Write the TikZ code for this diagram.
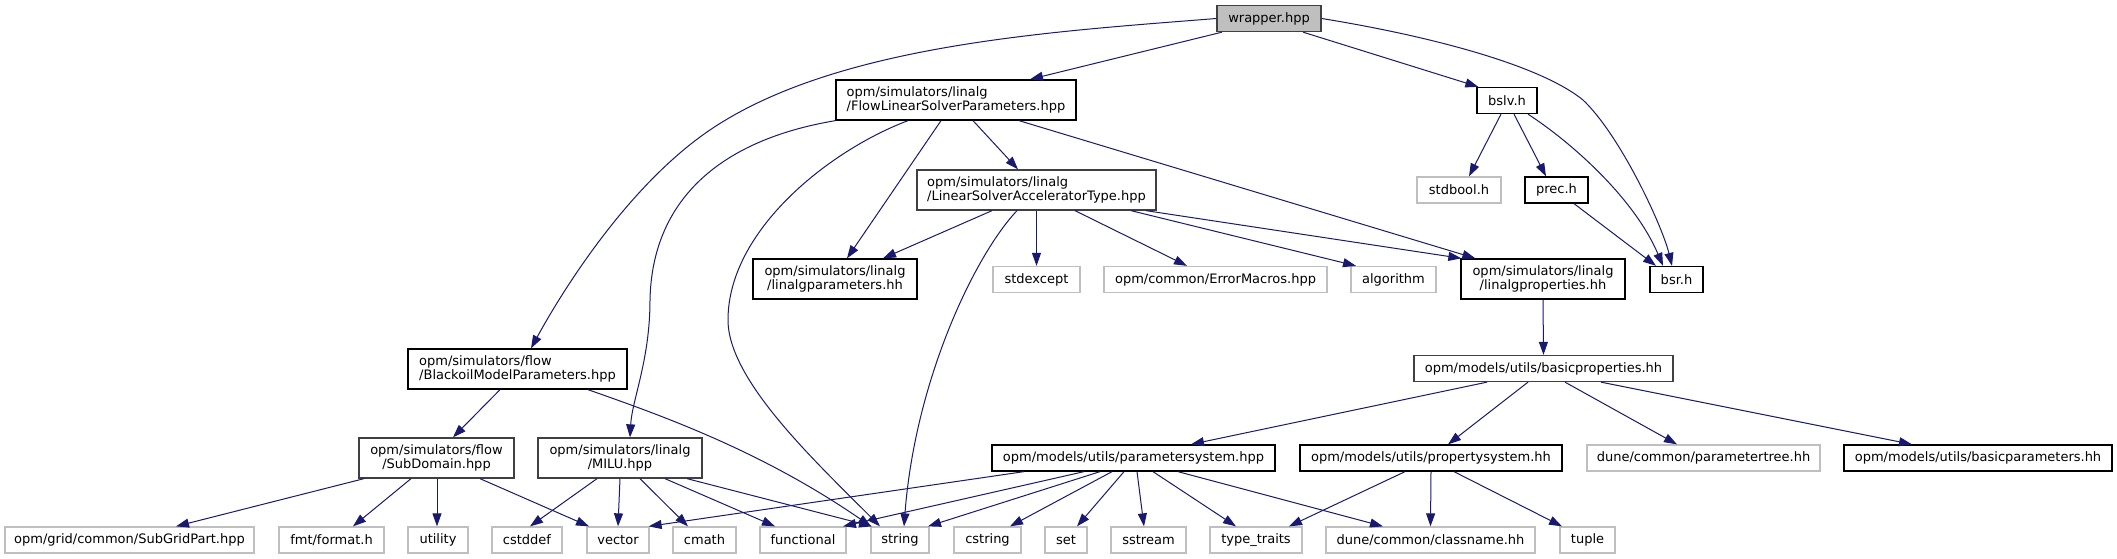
\documentclass[tikz,border=0pt]{standalone}
\usepackage{fontspec}
\setmainfont{DejaVu Sans}
\usetikzlibrary{arrows.meta}
\definecolor{edgec}{HTML}{191970}
\definecolor{dgray}{HTML}{404040}
\definecolor{lgray}{HTML}{BFBFBF}
\tikzset{
  nd/.style={draw=black, line width=1.3pt, rectangle, inner sep=0pt, minimum height=26pt,
    font=\fontsize{13}{14.5}\selectfont, align=center, fill=white},
  two/.style={minimum height=40pt},
  sys/.style={nd, draw=lgray},
  gr/.style={draw=dgray},
  e/.style={draw=edgec, line width=1pt, -{Triangle[length=13pt,width=9pt]}}
}
\begin{document}
\begin{tikzpicture}[x=1pt,y=-1pt]
\useasboundingbox (0,0) rectangle (2117,559);
\fill[white] (0,0) rectangle (2117,559);
% nodes
\node[nd, fill=lgray, draw=dgray, minimum width=104pt] (wrapper) at (1269,18.5) {wrapper.hpp};
\node[nd, two, align=left, minimum width=240pt] (flsp) at (956,100) {opm/simulators/linalg\\/FlowLinearSolverParameters.hpp};
\node[nd, two, gr, align=left, minimum width=239pt] (lsat) at (1036.5,190) {opm/simulators/linalg\\/LinearSolverAcceleratorType.hpp};
\node[nd, two, minimum width=164pt] (lpar) at (835,279) {opm/simulators/linalg\\/linalgparameters.hh};
\node[sys, minimum width=87pt] (stdexcept) at (1036.5,279.5) {stdexcept};
\node[sys, minimum width=223pt] (errmac) at (1215.5,279.5) {opm/common/ErrorMacros.hpp};
\node[sys, minimum width=85pt] (algorithm) at (1393.5,279.5) {algorithm};
\node[nd, two, minimum width=164pt] (lprop) at (1543,279) {opm/simulators/linalg\\/linalgproperties.hh};
\node[nd, minimum width=53pt] (bsr) at (1676.5,279.5) {bsr.h};
\node[nd, minimum width=60pt] (bslv) at (1507,100.5) {bslv.h};
\node[sys, minimum width=84pt] (stdbool) at (1459,190) {stdbool.h};
\node[nd, minimum width=63pt] (prec) at (1556.5,190) {prec.h};
\node[nd, gr, minimum width=259pt] (bprop) at (1543.5,368.5) {opm/models/utils/basicproperties.hh};
\node[nd, minimum width=283pt] (psys) at (1133.5,458) {opm/models/utils/parametersystem.hpp};
\node[nd, minimum width=262pt] (propsys) at (1431,458) {opm/models/utils/propertysystem.hh};
\node[sys, minimum width=233pt] (ptree) at (1703.5,458) {dune/common/parametertree.hh};
\node[nd, minimum width=268pt] (bparam) at (1978,458) {opm/models/utils/basicparameters.hh};
\node[nd, two, align=left, minimum width=219pt] (bmp) at (517.5,369) {opm/simulators/flow\\/BlackoilModelParameters.hpp};
\node[nd, two, gr, minimum width=155pt] (subdom) at (436.5,458) {opm/simulators/flow\\/SubDomain.hpp};
\node[nd, two, gr, minimum width=164pt] (milu) at (620,458) {opm/simulators/linalg\\/MILU.hpp};
\node[sys, minimum width=249pt] (subgrid) at (129.5,540) {opm/grid/common/SubGridPart.hpp};
\node[sys, minimum width=105pt] (fmt) at (331.5,540) {fmt/format.h};
\node[sys, minimum width=60pt] (utility) at (438,540) {utility};
\node[sys, minimum width=70pt] (cstddef) at (527,540) {cstddef};
\node[sys, minimum width=62pt] (vector) at (618,540) {vector};
\node[sys, minimum width=63pt] (cmath) at (704.5,540) {cmath};
\node[sys, minimum width=86pt] (functional) at (803,540) {functional};
\node[sys, minimum width=58pt] (string) at (900,540) {string};
\node[sys, minimum width=67pt] (cstring) at (987.5,540) {cstring};
\node[sys, minimum width=42pt] (set) at (1066,540) {set};
\node[sys, minimum width=75pt] (sstream) at (1148.5,540) {sstream};
\node[sys, minimum width=92pt] (typetraits) at (1256,540) {type\_traits};
\node[sys, minimum width=209pt] (classname) at (1430.5,540) {dune/common/classname.hh};
\node[sys, minimum width=55pt] (tuple) at (1587.5,540) {tuple};
% edges from wrapper
\draw[e] (wrapper.west) .. controls (1047,32) and (825,45) .. (700,137) .. controls (616,199) and (553,308) .. ([xshift=13.5pt]bmp.north);
\draw[e] ([xshift=-47pt]wrapper.south) -- ([xshift=74pt]flsp.north);
\draw[e] ([xshift=34pt]wrapper.south) -- ([xshift=2pt]bslv.north west);
\draw[e] (wrapper.east) .. controls (1430,36) and (1540,65) .. (1583,100) .. controls (1620,135) and (1662,225) .. ([xshift=-4.5pt]bsr.north);
% bslv, prec
\draw[e] ([xshift=-6pt]bslv.south) -- ([xshift=10pt]stdbool.north);
\draw[e] ([xshift=7pt]bslv.south) -- ([xshift=-10.5pt]prec.north);
\draw[e] ([xshift=21pt]bslv.south) .. controls (1575,145) and (1635,200) .. ([xshift=-13.5pt]bsr.north);
\draw[e] ([xshift=17.5pt]prec.south) -- ([xshift=-20.5pt]bsr.north);
% flsp
\draw[e] ([xshift=17pt]flsp.south) -- ([xshift=-18.5pt]lsat.north);
\draw[e] ([xshift=-15pt]flsp.south) -- ([xshift=12pt]lpar.north);
\draw[e] ([xshift=63pt]flsp.south) -- ([xshift=15pt]lprop.north west);
\draw[e] ([xshift=-48pt]flsp.south) .. controls (830,150) and (728,230) .. (728,320) .. controls (728,380) and (815,461) .. ([xshift=-20pt]string.north);
\draw[e] (flsp.south west) .. controls (720,140) and (652,200) .. (650,300) .. controls (650,360) and (632,400) .. ([xshift=10pt]milu.north);
% bmp
\draw[e] ([xshift=-17.5pt]bmp.south) -- ([xshift=16.5pt]subdom.north);
\draw[e] ([xshift=70.5pt]bmp.south) .. controls (660,415) and (760,450) .. ([xshift=-29pt]string.north);
% subdomain
\draw[e] ([xshift=-72.5pt]subdom.south) -- ([xshift=46.5pt]subgrid.north);
\draw[e] ([xshift=-25.5pt]subdom.south) -- ([xshift=21.5pt]fmt.north);
\draw[e] ([xshift=0.5pt]subdom.south) -- ([xshift=-1pt]utility.north);
\draw[e] ([xshift=43.5pt]subdom.south) -- ([xshift=-29pt]vector.north);
% milu
\draw[e] ([xshift=-23pt]milu.south) -- ([xshift=3pt]cstddef.north);
\draw[e] (milu.south) -- (vector.north);
\draw[e] ([xshift=20pt]milu.south) -- ([xshift=-16.5pt]cmath.north);
\draw[e] ([xshift=45pt]milu.south) -- ([xshift=-28pt]functional.north);
\draw[e] ([xshift=67pt]milu.south) -- ([xshift=-28pt]string.north);
% lsat
\draw[e] ([xshift=-44.5pt]lsat.south) -- ([xshift=48pt]lpar.north);
\draw[e] ([xshift=-19.5pt]lsat.south) .. controls (975,255) and (915,380) .. ([xshift=4pt]string.north);
\draw[e] (lsat.south) -- (stdexcept.north);
\draw[e] ([xshift=38.5pt]lsat.south) -- ([xshift=-28.5pt]errmac.north);
\draw[e] ([xshift=94.5pt]lsat.south) -- ([xshift=-37.5pt]algorithm.north);
\draw[e] ([xshift=109.5pt]lsat.south) -- ([xshift=1pt]lprop.north west);
% lprop
\draw[e] (lprop.south) -- (bprop.north);
% bprop
\draw[e] ([xshift=-56.5pt]bprop.south) -- ([xshift=57.5pt]psys.north);
\draw[e] ([xshift=-15.5pt]bprop.south) -- ([xshift=17pt]propsys.north);
\draw[e] ([xshift=21.5pt]bprop.south) -- ([xshift=-26.5pt]ptree.north);
\draw[e] ([xshift=57.5pt]bprop.south) -- ([xshift=-66pt]bparam.north);
% psys
\draw[e] ([xshift=-109.5pt]psys.south) -- ([xshift=-1pt]vector.north east);
\draw[e] ([xshift=-49.5pt]psys.south) -- ([xshift=40pt]functional.north);
\draw[e] ([xshift=-33.5pt]psys.south) -- ([xshift=28pt]string.north);
\draw[e] ([xshift=-21.5pt]psys.south) -- ([xshift=22.5pt]cstring.north);
\draw[e] ([xshift=-9.5pt]psys.south) -- ([xshift=11pt]set.north);
\draw[e] ([xshift=3.5pt]psys.south) -- ([xshift=-4.5pt]sstream.north);
\draw[e] ([xshift=19.5pt]psys.south) -- ([xshift=-20pt]typetraits.north);
\draw[e] ([xshift=44.5pt]psys.south) -- ([xshift=-47.5pt]classname.north);
% propsys
\draw[e] ([xshift=-26pt]propsys.south) -- ([xshift=33pt]typetraits.north);
\draw[e] (propsys.south) -- (classname.north);
\draw[e] ([xshift=23pt]propsys.south) -- ([xshift=-25.5pt]tuple.north);
\end{tikzpicture}
\end{document}
